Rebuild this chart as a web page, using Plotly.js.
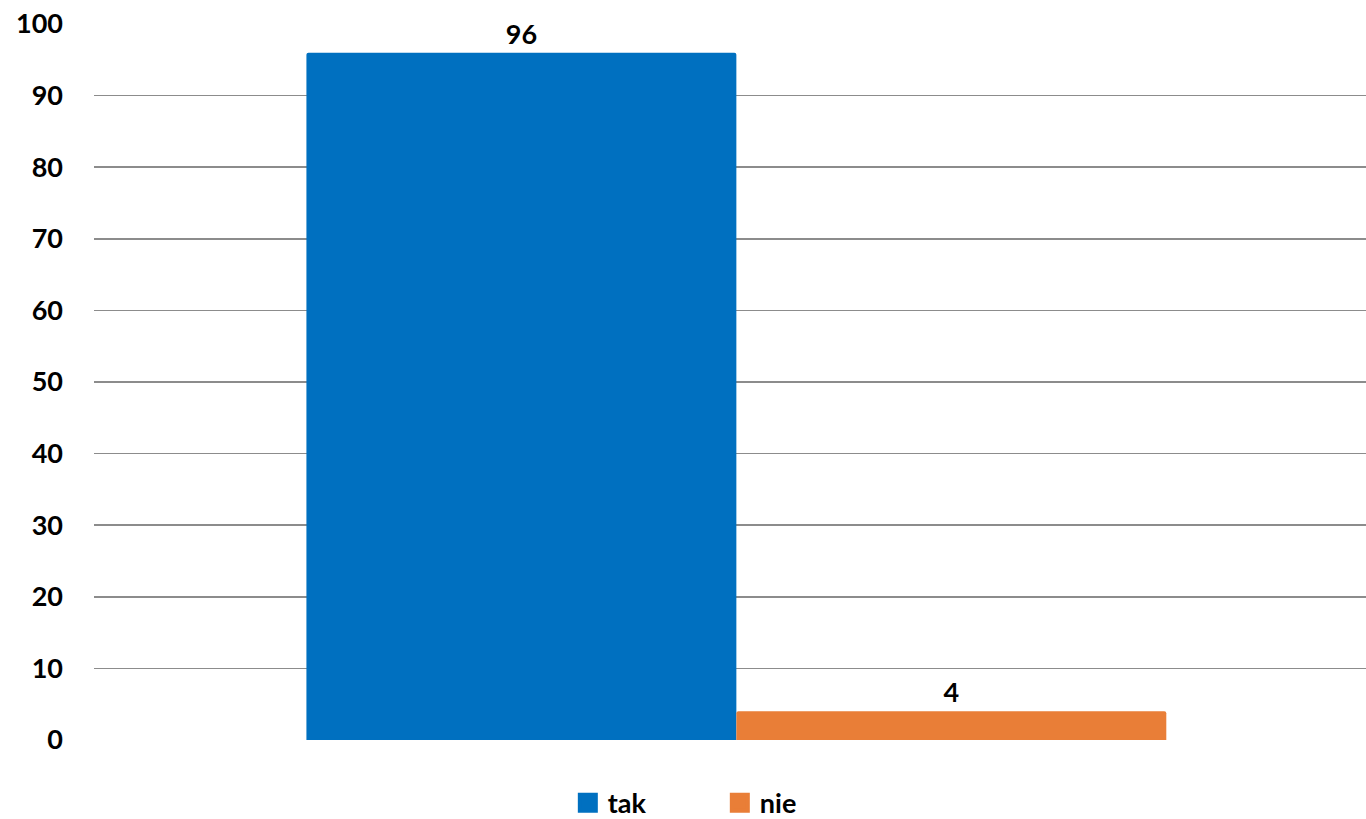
<!DOCTYPE html>
<html>
<head>
<meta charset="utf-8">
<script src="https://cdn.plot.ly/plotly-3.0.1.min.js"></script>
<style>
html,body{margin:0;padding:0;background:#fff;}
#chart{width:1366px;height:819px;}
</style>
</head>
<body>
<div id="chart"></div>
<script>
var categories = [""];
var seriesNames = ["tak", "nie"];
var takValues = [96];
var nieValues = [4];
var seriesColors = ["#0070C0", "#E97E37"];
var yTicks = [0, 10, 20, 30, 40, 50, 60, 70, 80, 90, 100];

var fontFamily = "Lato, 'Open Sans', 'Liberation Sans', sans-serif";
var boldFont = { family: fontFamily, size: 27, color: "#000", weight: "bold" };

var barTraces = [takValues, nieValues].map(function (vals, i) {
  return {
    type: "bar",
    name: seriesNames[i],
    legendgroup: seriesNames[i],
    showlegend: false,
    x: categories,
    y: vals,
    marker: { color: seriesColors[i], cornerradius: 2, line: { width: 0 } },
    text: vals.map(String),
    textposition: "outside",
    textfont: boldFont,
    cliponaxis: false,
    hoverinfo: "none"
  };
});

// legend entries (square swatches) for the two series
var legendTraces = seriesNames.map(function (name, i) {
  return {
    type: "scatter",
    mode: "markers",
    name: name,
    legendgroup: name,
    showlegend: true,
    x: [null],
    y: [null],
    marker: { symbol: "square", size: 16, color: seriesColors[i], line: { color: seriesColors[i], width: 4 } },
    hoverinfo: "none"
  };
});

var layout = {
  width: 1366,
  height: 819,
  margin: { l: 94, r: 0, t: 24, b: 79, pad: 0, autoexpand: false },
  paper_bgcolor: "#fff",
  plot_bgcolor: "#fff",
  barmode: "group",
  bargap: 0.324,
  bargroupgap: 0,
  showlegend: true,
  legend: {
    orientation: "h",
    x: 0.492,
    xanchor: "center",
    xref: "paper",
    y: -0.054,
    yanchor: "top",
    font: boldFont,
    itemsizing: "trace",
    itemwidth: 30,
    entrywidth: 107,
    entrywidthmode: "pixels",
    itemclick: false,
    traceorder: "normal"
  },
  xaxis: {
    type: "category",
    range: [-0.505, 0.495],
    showgrid: false,
    zeroline: false,
    showline: false,
    showticklabels: false,
    ticks: ""
  },
  yaxis: {
    range: [0, 100],
    tickvals: yTicks,
    ticktext: yTicks.map(String),
    showgrid: true,
    gridcolor: "#8C8C8C",
    gridwidth: 1.5,
    zeroline: false,
    showline: false,
    ticks: "",
    ticklabelstandoff: 30,
    tickfont: boldFont
  }
};

Plotly.newPlot("chart", barTraces.concat(legendTraces), layout, { staticPlot: true, displayModeBar: false });
</script>
</body>
</html>
